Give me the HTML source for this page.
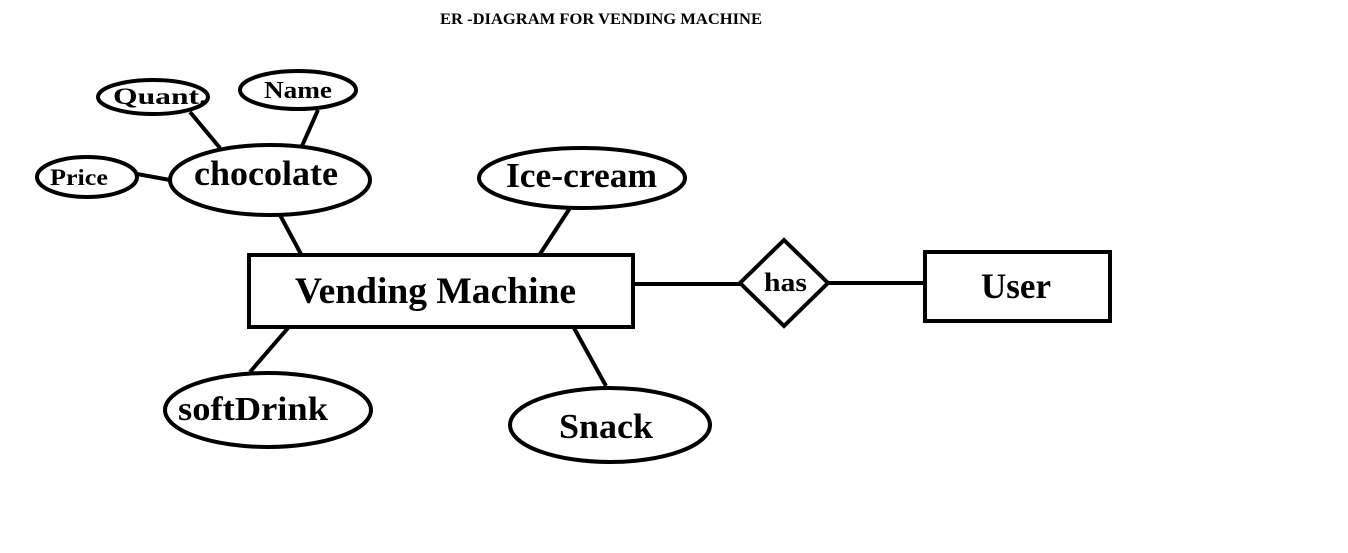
<!DOCTYPE html>
<html><head><style>html,body{margin:0;padding:0;background:#fff;}svg{display:block}</style></head>
<body>
<svg width="1348" height="553" viewBox="0 0 1348 553" xmlns="http://www.w3.org/2000/svg">
<g fill="none" stroke="#000" stroke-width="4">
<ellipse cx="153" cy="97" rx="55" ry="17"/>
<ellipse cx="298" cy="90" rx="58" ry="19"/>
<ellipse cx="87" cy="177" rx="50" ry="20"/>
<ellipse cx="270" cy="180" rx="100" ry="35"/>
<ellipse cx="582" cy="178" rx="103" ry="30"/>
<ellipse cx="268" cy="410" rx="103" ry="37"/>
<ellipse cx="610" cy="425" rx="100" ry="37"/>
<rect x="249" y="255" width="384" height="72"/>
<polygon points="784,240 828,283 784,326 740,283"/>
<rect x="925" y="252" width="185" height="69"/>
<line x1="190" y1="112" x2="220" y2="148"/>
<line x1="318" y1="110" x2="302" y2="146"/>
<line x1="137" y1="174" x2="170" y2="180"/>
<line x1="280" y1="215" x2="302" y2="256"/>
<line x1="570" y1="208" x2="540" y2="254"/>
<line x1="288" y1="328" x2="250" y2="372"/>
<line x1="574" y1="328" x2="606" y2="386"/>
<line x1="633" y1="284" x2="740" y2="284"/>
<line x1="828" y1="283" x2="925" y2="283"/>
</g>
<g font-family="Liberation Serif, serif" font-weight="bold" fill="#000">
<text x="440" y="24" font-size="16" textLength="322" lengthAdjust="spacingAndGlyphs">ER -DIAGRAM FOR VENDING MACHINE</text>
<text x="113" y="104" font-size="23" textLength="94" lengthAdjust="spacingAndGlyphs">Quant.</text>
<text x="264" y="98" font-size="24" textLength="68" lengthAdjust="spacingAndGlyphs">Name</text>
<text x="50" y="185" font-size="23" textLength="58" lengthAdjust="spacingAndGlyphs">Price</text>
<text x="194" y="185" font-size="35" textLength="144" lengthAdjust="spacingAndGlyphs">chocolate</text>
<text x="506" y="187" font-size="35" textLength="151" lengthAdjust="spacingAndGlyphs">Ice-cream</text>
<text x="178" y="420" font-size="34" textLength="150" lengthAdjust="spacingAndGlyphs">softDrink</text>
<text x="559" y="438" font-size="35" textLength="94" lengthAdjust="spacingAndGlyphs">Snack</text>
<text x="295" y="303" font-size="37" textLength="281" lengthAdjust="spacingAndGlyphs">Vending Machine</text>
<text x="981" y="298" font-size="36" textLength="70" lengthAdjust="spacingAndGlyphs">User</text>
<text x="764" y="291" font-size="26" textLength="43" lengthAdjust="spacingAndGlyphs">has</text>
</g>
</svg>
</body></html>
